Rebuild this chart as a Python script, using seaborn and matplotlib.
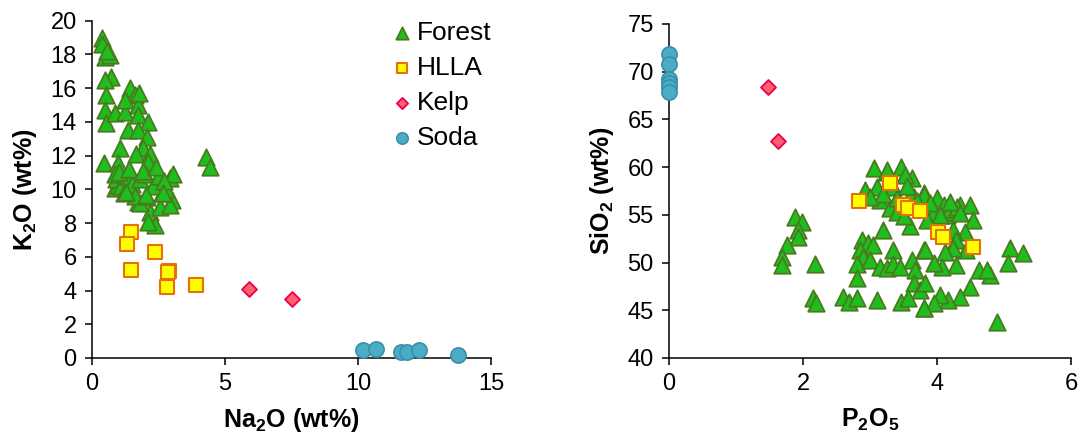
import matplotlib
matplotlib.use("Agg")
import matplotlib.pyplot as plt
import seaborn as sns

# ---- Na2O vs K2O (wt%) ----
forest_na2o = [0.36, 0.39, 0.48, 0.67, 0.55, 0.70, 0.48, 0.52, 0.48, 0.52, 0.85, 1.23, 1.42, 1.61,
               1.72, 1.23, 1.72, 2.09, 1.34, 1.72, 1.77, 2.07, 1.04, 1.92, 0.45, 0.98, 1.67, 2.17,
               2.10, 2.92, 3.05, 2.55, 1.23, 0.85, 1.34, 2.06, 2.62, 3.00, 2.17, 2.36, 2.10, 1.72,
               0.98, 1.79, 2.55, 2.92, 4.30, 4.45, 0.90, 1.10, 1.30, 1.50, 1.80, 2.00, 2.30, 1.60,
               1.20, 2.50, 2.80, 0.85, 1.00, 1.40, 1.90, 2.40, 2.70, 1.29, 2.04, 2.67]
forest_k2o = [18.97, 18.60, 17.84, 17.96, 18.20, 16.66, 16.48, 15.60, 14.70, 13.93, 14.50, 14.56, 16.00, 15.60,
              15.00, 15.30, 14.40, 13.99, 13.50, 13.50, 15.70, 13.10, 12.45, 12.43, 11.54, 11.54, 12.10, 12.10,
              11.62, 10.67, 10.90, 10.43, 10.55, 10.07, 9.95, 9.54, 9.78, 9.36, 8.65, 7.88, 8.08, 9.25,
              10.25, 9.18, 8.98, 9.08, 11.93, 11.34, 10.60, 10.20, 10.80, 10.30, 10.60, 10.90, 10.20, 9.60,
              9.80, 10.80, 10.00, 10.90, 11.00, 11.20, 11.10, 11.30, 10.50, 9.87, 9.67, 9.76]

hlla_na2o = [1.45, 1.33, 1.48, 2.36, 2.89, 2.85, 2.83, 3.90]
hlla_k2o = [7.48, 6.75, 5.20, 6.29, 5.17, 5.10, 4.19, 4.33]

kelp_na2o = [5.90, 7.53]
kelp_k2o = [4.07, 3.50]

soda_na2o = [10.19, 10.67, 11.63, 11.84, 12.28, 13.76]
soda_k2o = [0.50, 0.53, 0.34, 0.34, 0.50, 0.16]

# ---- P2O5 vs SiO2 (wt%) ----
forest_p2o5 = [3.06, 3.25, 3.47, 3.62, 3.52, 3.35, 2.93, 3.10, 3.15, 3.30, 3.40, 3.65, 3.80, 3.20,
               1.88, 1.98, 1.93, 1.93, 1.76, 1.68, 1.68, 2.18, 2.88, 2.97, 3.05, 2.85, 2.90, 2.80,
               3.00, 3.15, 3.25, 3.35, 3.35, 3.45, 3.62, 3.67, 3.80, 2.80, 2.15, 2.20, 2.60, 2.68,
               2.80, 3.10, 3.47, 3.65, 3.75, 3.80, 3.57,
               3.80, 4.00, 4.34, 4.49, 4.54, 3.95, 4.15, 4.24, 4.42, 4.24, 4.29, 4.44, 4.24, 4.12,
               3.82, 5.09, 5.29, 5.06, 4.62, 4.79, 4.74, 4.29, 4.07, 3.95, 3.82, 4.49, 4.34, 4.17,
               4.04, 3.95, 3.80, 4.89,
               3.60, 3.70, 3.90, 4.10, 4.20, 4.30, 3.40, 3.20, 3.00, 4.05, 3.85, 3.60, 3.50, 4.20,
               4.35, 3.25, 3.55]
forest_sio2 = [59.87, 59.52, 60.04, 58.83, 59.17, 57.95, 57.60, 57.95, 56.55, 55.68, 55.33, 56.90, 57.25, 53.40,
               54.80, 54.28, 53.40, 52.70, 51.83, 50.60, 49.74, 49.90, 52.36, 52.00, 51.83, 51.30, 50.60, 49.90,
               50.26, 49.56, 49.40, 51.30, 49.90, 49.56, 50.26, 49.20, 51.30, 48.34, 46.25, 45.72, 46.41, 45.90,
               46.25, 46.07, 45.90, 47.82, 47.10, 45.20, 46.25,
               57.10, 56.73, 56.03, 56.03, 54.45, 55.33, 54.98, 55.33, 53.23, 53.40, 52.36, 51.30, 51.49, 51.13,
               51.30, 51.49, 50.96, 49.91, 49.20, 48.69, 49.20, 49.74, 49.56, 49.91, 47.82, 47.47, 46.41, 46.07,
               46.60, 45.72, 45.20, 43.80,
               57.00, 56.50, 56.20, 56.00, 55.60, 55.80, 56.80, 57.20, 56.90, 55.00, 54.50, 53.80, 54.90, 56.30,
               55.20, 59.70, 58.00]

hlla_p2o5 = [2.84, 3.30, 3.49, 3.57, 3.75, 4.02, 4.09, 4.53]
hlla_sio2 = [56.45, 58.30, 56.03, 55.70, 55.40, 53.23, 52.70, 51.66]

kelp_p2o5 = [1.48, 1.62]
kelp_sio2 = [68.43, 62.74]

soda_p2o5 = [0.0, 0.0, 0.0, 0.0, 0.0, 0.0]
soda_sio2 = [71.86, 70.78, 69.20, 68.80, 68.37, 67.90]

groups = ["Forest", "HLLA", "Kelp", "Soda"]
styles = {
    "Forest": dict(marker="^", s=140, color="#1fbe1f", edgecolor="#4a7a1e", linewidth=1.3),
    "HLLA": dict(marker="s", s=100, color="#ffff00", edgecolor="#e8700a", linewidth=1.5),
    "Kelp": dict(marker="D", s=58, color="#ff5f70", edgecolor="#e8004a", linewidth=1.3),
    "Soda": dict(marker="o", s=120, color="#4bacc6", edgecolor="#3a8fa8", linewidth=1.2),
}

sns.set_theme(style="ticks")
plt.rcParams["font.family"] = ["Liberation Sans", "DejaVu Sans"]
plt.rcParams["mathtext.fontset"] = "custom"
plt.rcParams["mathtext.rm"] = "Liberation Sans"
plt.rcParams["mathtext.bf"] = "Liberation Sans:bold"
plt.rcParams["text.color"] = "black"
plt.rcParams["axes.labelcolor"] = "black"

fig = plt.figure(figsize=(10.81, 4.46), dpi=100)
ax1 = fig.add_axes([92 / 1081, 88 / 446, 399 / 1081, 337.3 / 446])
ax2 = fig.add_axes([669 / 1081, 88 / 446, 402 / 1081, 334 / 446])

left_data = {
    "Forest": (forest_na2o, forest_k2o),
    "HLLA": (hlla_na2o, hlla_k2o),
    "Kelp": (kelp_na2o, kelp_k2o),
    "Soda": (soda_na2o, soda_k2o),
}
right_data = {
    "Forest": (forest_p2o5, forest_sio2),
    "HLLA": (hlla_p2o5, hlla_sio2),
    "Kelp": (kelp_p2o5, kelp_sio2),
    "Soda": (soda_p2o5, soda_sio2),
}

for ax, data, show_legend in ((ax1, left_data, True), (ax2, right_data, False)):
    for z, g in enumerate(groups):
        xs, ys = data[g]
        sns.scatterplot(x=xs, y=ys, ax=ax, label=g if show_legend else None,
                        clip_on=False, zorder=3 + z, **styles[g])

tick_fs = 17
label_fs = 18

ax1.set_xlim(0, 15)
ax1.set_ylim(0, 20)
ax1.set_xticks([0, 5, 10, 15])
ax1.set_yticks(range(0, 21, 2))
ax1.set_xlabel(r"$\mathbf{Na_2O}$ (wt%)", fontsize=label_fs, fontweight="bold", labelpad=8)
ax1.set_ylabel(r"$\mathbf{K_2O}$ (wt%)", fontsize=label_fs, fontweight="bold", labelpad=8)

ax2.set_xlim(0, 6)
ax2.set_ylim(40, 75)
ax2.set_xticks([0, 2, 4, 6])
ax2.set_yticks(range(40, 76, 5))
ax2.set_xlabel(r"$\mathbf{P_2O_5}$", fontsize=label_fs, fontweight="bold", labelpad=8)
ax2.set_ylabel(r"$\mathbf{SiO_2}$ (wt%)", fontsize=label_fs, fontweight="bold", labelpad=8)

for ax in (ax1, ax2):
    sns.despine(ax=ax)
    for side in ("left", "bottom"):
        ax.spines[side].set_linewidth(1.1)
        ax.spines[side].set_color("black")
    ax.tick_params(direction="out", length=5, width=1.1, color="black",
                   labelsize=tick_fs, labelcolor="black", pad=6)
    ax.set_facecolor("white")

leg = ax1.legend(loc="upper left", bbox_to_anchor=(0.724, 1.03), frameon=False,
                 fontsize=19, handlelength=0.8, handletextpad=0.15, labelspacing=0.42,
                 borderaxespad=0, markerscale=0.75)
for t in leg.get_texts():
    t.set_color("black")

fig.savefig("out.png", dpi=100, facecolor="white")
